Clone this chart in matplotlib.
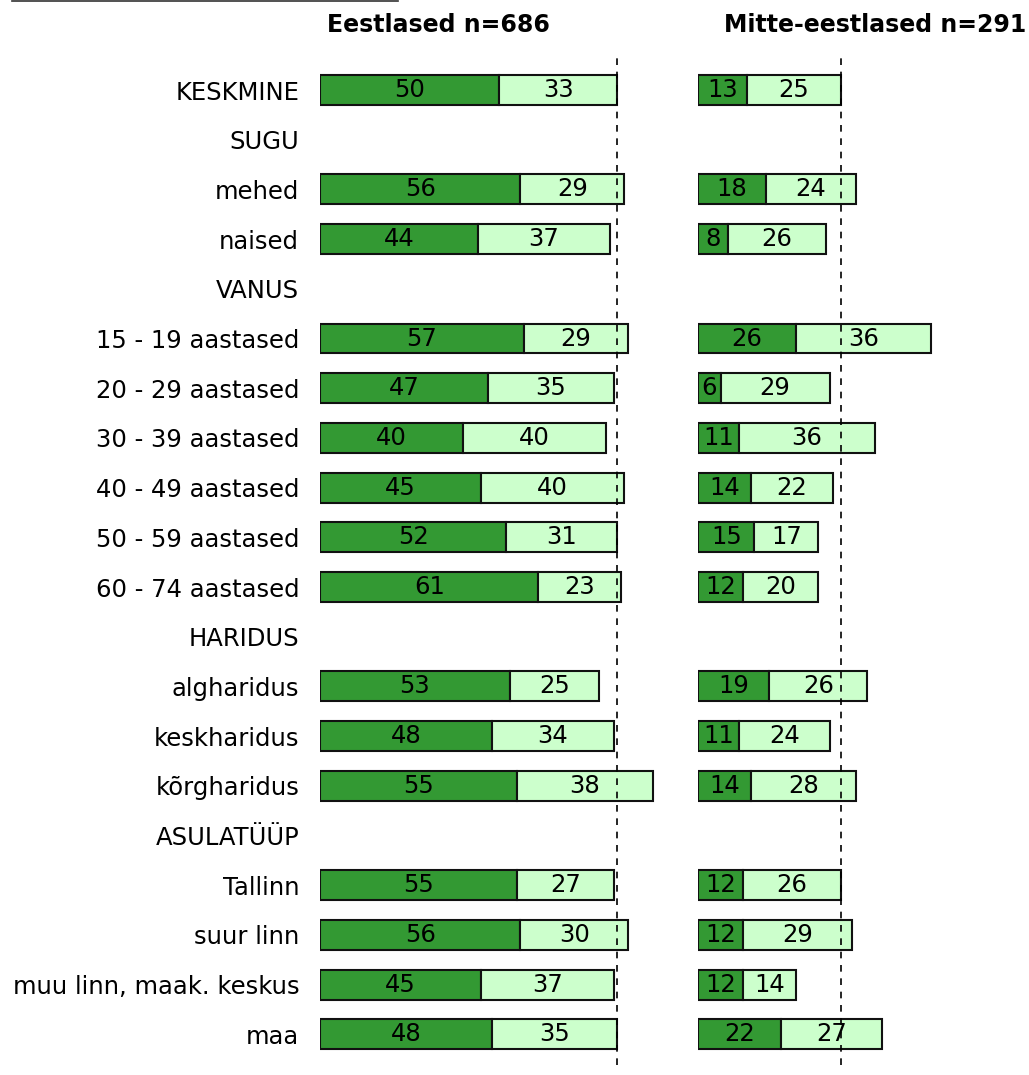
import matplotlib.pyplot as plt
import numpy as np

labels = ["KESKMINE", "SUGU", "mehed", "naised", "VANUS",
          "15 - 19 aastased", "20 - 29 aastased", "30 - 39 aastased",
          "40 - 49 aastased", "50 - 59 aastased", "60 - 74 aastased",
          "HARIDUS", "algharidus", "keskharidus", "kõrgharidus",
          "ASULATÜÜP", "Tallinn", "suur linn", "muu linn, maak. keskus", "maa"]

est_dark = [50, None, 56, 44, None, 57, 47, 40, 45, 52, 61, None, 53, 48, 55, None, 55, 56, 45, 48]
est_light = [33, None, 29, 37, None, 29, 35, 40, 40, 31, 23, None, 25, 34, 38, None, 27, 30, 37, 35]
non_dark = [13, None, 18, 8, None, 26, 6, 11, 14, 15, 12, None, 19, 11, 14, None, 12, 12, 12, 22]
non_light = [25, None, 24, 26, None, 36, 29, 36, 22, 17, 20, None, 26, 24, 28, None, 26, 29, 14, 27]

titles = ["Eestlased n=686", "Mitte-eestlased n=291"]

DARK = "#339933"
LIGHT = "#ccffcc"
W, H = 1029, 1075
FS = 17.5

fig = plt.figure(figsize=(W / 100, H / 100), dpi=100)

top_px, bot_px = 58, 1065
row0, step = 90, 49.7
ylo = -(row0 - top_px) / step
yhi = 19 + (bot_px - (row0 + 19 * step)) / step


def make_panel(left_px, scale, xmax, dark, light):
    ax = fig.add_axes([left_px / W, (H - bot_px) / H, xmax * scale / W, (bot_px - top_px) / H])
    y = np.arange(len(labels))
    for i in y:
        if dark[i] is None:
            continue
        d, l = dark[i], light[i]
        ax.barh(i, d, height=0.6, color=DARK, edgecolor="#111111", linewidth=1.5)
        ax.barh(i, l, left=d, height=0.6, color=LIGHT, edgecolor="#111111", linewidth=1.5)
        ax.text(d / 2, i, str(d), ha="center", va="center", fontsize=FS)
        ax.text(d + l / 2, i, str(l), ha="center", va="center", fontsize=FS)
    avg = dark[0] + light[0]
    ax.axvline(avg, color="black", linestyle=(0, (4, 4)), linewidth=1.2, zorder=5)
    ax.set_xlim(0, xmax)
    ax.set_ylim(yhi, ylo)
    for s in ax.spines.values():
        s.set_visible(False)
    ax.set_xticks([])
    return ax


ax1 = make_panel(320, 3.58, 95, est_dark, est_light)
ax1.set_yticks(np.arange(len(labels)))
ax1.set_yticklabels(labels, fontsize=FS)
ax1.tick_params(axis="y", length=0, pad=15)

ax2 = make_panel(698, 3.76, 65, non_dark, non_light)
ax2.set_yticks([])

fig.text(438 / W, 1 - 25 / H, titles[0], ha="center", va="center", fontsize=17, fontweight="bold")
fig.text(875 / W, 1 - 25 / H, titles[1], ha="center", va="center", fontsize=17, fontweight="bold")

fig.add_artist(plt.Line2D([12 / W, 398 / W], [1 - 1 / H, 1 - 1 / H], color="#333333", linewidth=1.2))

fig.savefig("out.png", dpi=100)
